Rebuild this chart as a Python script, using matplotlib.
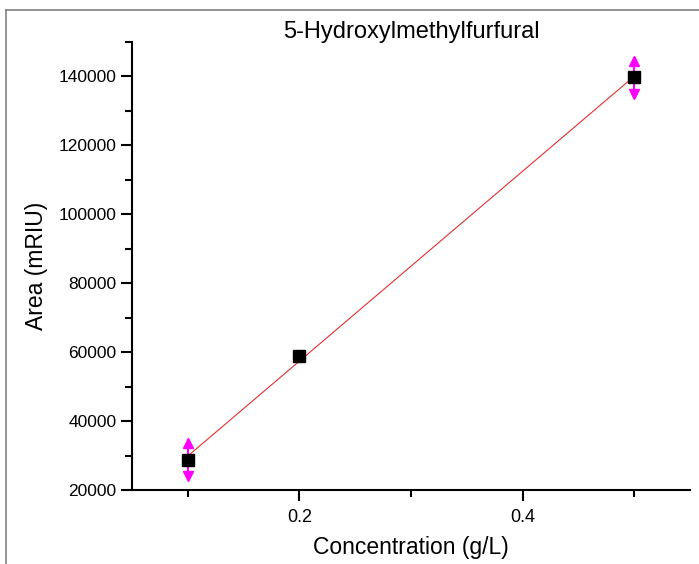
"""
Calibration plot for 5-Hydroxylmethylfurfural: peak area vs concentration
with a linear fit.
"""

import numpy as np
import matplotlib.pyplot as plt
from matplotlib.ticker import MultipleLocator
from matplotlib.lines import Line2D

# data
conc = [0.1, 0.2, 0.5]                  # g/L
area = [28800, 58800, 139700]           # mRIU
area_err = [6000, 0, 6000]

x_major = [0.2, 0.4]
y_major = [20000, 40000, 60000, 80000, 100000, 120000, 140000]


def make_plot():
    plt.rcParams['font.family'] = ['Liberation Sans', 'DejaVu Sans']

    fig = plt.figure(figsize=(6.99, 5.64), dpi=100)
    ax = fig.add_axes([132 / 699, 1 - 490 / 564, (690 - 132) / 699, (490 - 42) / 564])

    # linear fit through the points
    slope, icpt = np.polyfit(conc, area, 1)
    xf = np.array([min(conc), max(conc)])
    ax.plot(xf, slope * xf + icpt, color='#e03030', lw=0.8, zorder=2)

    # error bars with arrow heads
    x = np.array(conc)
    y = np.array(area)
    e = np.array(area_err)
    has = e > 0
    ax.errorbar(x[has], y[has], yerr=e[has], fmt='none', ecolor='#ff00ff',
                elinewidth=1.5, capsize=0, zorder=3)
    ax.plot(x[has], y[has] + e[has] - 1300, '^', color='#ff00ff', ms=7, zorder=3)
    ax.plot(x[has], y[has] - e[has] + 1300, 'v', color='#ff00ff', ms=7, zorder=3)

    ax.plot(conc, area, 's', color='black', ms=8, zorder=4)

    ax.set_xlim(0.05, 0.55)
    ax.set_ylim(20000, 150000)
    ax.set_xticks(x_major)
    ax.set_xticklabels([str(v) for v in x_major])
    ax.set_yticks(y_major)
    ax.set_yticklabels([str(v) for v in y_major])
    ax.xaxis.set_minor_locator(MultipleLocator(0.1))
    ax.yaxis.set_minor_locator(MultipleLocator(10000))

    for s in ['top', 'right']:
        ax.spines[s].set_visible(False)
    for s in ['left', 'bottom']:
        ax.spines[s].set_linewidth(1.5)
    ax.tick_params(which='major', direction='out', length=8, width=1.5, pad=3)
    ax.tick_params(axis='y', which='major', labelsize=12.5)
    ax.tick_params(axis='x', which='major', labelsize=13, pad=6)
    ax.tick_params(which='minor', direction='out', length=5, width=1.5)

    ax.set_xlabel("Concentration (g/L)", fontsize=16.5, labelpad=7)
    ax.set_ylabel("Area (mRIU)", fontsize=16.5, labelpad=8)
    fig.text(411 / 699, 1 - 32 / 564, "5-Hydroxylmethylfurfural",
             fontsize=17, ha='center', va='center')

    # outer frame (top and left edges of the exported graph page)
    fig.add_artist(Line2D([6 / 699, 1], [1 - 10 / 564, 1 - 10 / 564],
                          transform=fig.transFigure, color='#808080', lw=1.2))
    fig.add_artist(Line2D([6 / 699, 6 / 699], [0, 1 - 10 / 564],
                          transform=fig.transFigure, color='#808080', lw=1.2))

    fig.savefig("out.png", dpi=100)


def main():
    make_plot()


if __name__ == "__main__":
    main()
